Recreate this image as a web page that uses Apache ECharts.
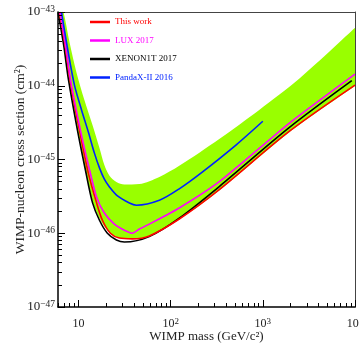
<!DOCTYPE html>
<html><head><meta charset="utf-8">
<script src="https://cdn.jsdelivr.net/npm/echarts@6/dist/echarts.min.js"></script>
<style>html,body{margin:0;padding:0;background:#fff}#c{width:359px;height:343px}</style>
</head><body><div id="c"></div>
<script>
// ---- data (mass in GeV/c^2, cross section in cm^2) ----
const xTickValues = [10, 100, 1000, 10000];
const yTickValues = [1e-47, 1e-46, 1e-45, 1e-44, 1e-43];
const xMin = 6, xMax = 10000, yMin = 1e-47, yMax = 1e-43;

const thisWorkMass  = [6.2, 7.15, 8.1, 10.25, 12.7, 15.7, 18.2, 22.2, 27.8, 38.5, 58.7, 124, 337, 1930, 10000];
const thisWorkSigma = [1.0e-43, 3.6e-44, 1.2e-44, 2.5e-45, 6.8e-46, 2.6e-46, 1.5e-46, 1.0e-46, 8.6e-47, 8.4e-47, 9.2e-47, 1.56e-46, 3.9e-46, 2.4e-45, 1.02e-44];

const luxMass  = [6.3, 7.23, 8.2, 10.5, 13.2, 15.7, 19.1, 24.5, 31.5, 38.5, 45.8, 58.7, 124, 337, 1930, 10000];
const luxSigma = [1.0e-43, 3.6e-44, 1.2e-44, 2.5e-45, 7.2e-46, 3.1e-46, 1.88e-46, 1.33e-46, 1.1e-46, 1.0e-46, 1.14e-46, 1.33e-46, 2.2e-46, 5.0e-46, 3.1e-45, 1.44e-44];

const xenonMass  = [6.0, 6.9, 7.8, 9.75, 11.9, 14.2, 16.9, 20.6, 25.8, 31.5, 58.7, 124, 337, 1930, 9230];
const xenonSigma = [1.0e-43, 3.6e-44, 1.2e-44, 2.5e-45, 7.2e-46, 2.6e-46, 1.5e-46, 1.0e-46, 8.1e-47, 7.6e-47, 9.0e-47, 1.6e-46, 4.3e-46, 2.7e-45, 1.17e-44];

const pandaMass  = [6.55, 7.6, 9.05, 10.8, 12.8, 14.9, 16.9, 19.1, 21.7, 26.5, 35.7, 42.5, 75.5, 124, 222, 511, 1000];
const pandaSigma = [1.0e-43, 3.25e-44, 1.02e-44, 4.7e-45, 2.36e-45, 1.22e-45, 7.7e-46, 5.4e-46, 4.24e-46, 3.2e-46, 2.57e-46, 2.4e-46, 2.8e-46, 4.0e-46, 6.8e-46, 1.57e-45, 3.3e-45];

const bandUpperMass  = [6.0, 6.88, 8.0, 9.5, 11.6, 14.2, 16.9, 19.1, 21.7, 25.8, 31.5, 45.8, 75.5, 124, 337, 914, 2480, 10000];
const bandUpperSigma = [1.6e-43, 1.0e-43, 3.9e-44, 1.53e-44, 6.4e-45, 2.94e-45, 1.43e-45, 8.4e-46, 6.0e-46, 4.95e-46, 4.58e-46, 4.65e-46, 5.8e-46, 8.2e-46, 1.9e-45, 4.7e-45, 1.24e-44, 6.1e-44];

const bandLowerMass  = [6.0, 6.9, 7.8, 9.75, 11.9, 14.4, 17.6, 22.2, 27.8, 38.5, 58.7, 124, 337, 1930, 10000];
const bandLowerSigma = [1.0e-43, 3.6e-44, 1.2e-44, 2.5e-45, 7.2e-46, 2.6e-46, 1.46e-46, 1.0e-46, 8.6e-47, 8.4e-47, 9.2e-47, 1.54e-46, 3.8e-46, 2.32e-45, 9.9e-45];

// ---- build ----
const L = Math.log10;
const pairs = (m, s) => m.map((v, i) => [L(v), L(s[i])]);
const FONT = 'Liberation Serif';
const xMajor = xTickValues.map(L);
const yMajor = yTickValues.map(L);
const minorOf = (lo, hi) => {
  const out = [];
  for (let e = Math.floor(lo) - 1; e <= Math.ceil(hi); e++) {
    for (let k = 2; k <= 9; k++) {
      const v = e + L(k);
      if (v >= lo - 1e-9 && v <= hi + 1e-9) out.push(v);
    }
  }
  return out;
};
const xMinor = minorOf(L(xMin), L(xMax));
const yMinor = minorOf(L(yMin), L(yMax));

const supLabel = (e) => {
  const n = Math.round(e);
  if (n === 1) return '{b|10}';
  const s = n < 0 ? '\u2212' + (-n) : String(n);
  return '{b|10}{s|' + s + '}';
};
const richX = {
  b: { fontFamily: FONT, fontSize: 12, color: '#222', lineHeight: 14 },
  s: { fontFamily: FONT, fontSize: 9, color: '#222', lineHeight: 14, verticalAlign: 'top', padding: [0, 0, 6, 0] }
};
const richY = {
  b: { fontFamily: FONT, fontSize: 13, color: '#222', lineHeight: 15 },
  s: { fontFamily: FONT, fontSize: 9.5, color: '#222', lineHeight: 15, verticalAlign: 'top', padding: [0, 0, 6, 0] }
};

const common = { type: 'value', min: L(xMin), max: L(xMax), z: 5 };
const xAxes = [
  { ...common, position: 'bottom',
    axisLine: { onZero: false, lineStyle: { color: '#000', width: 1.5 } },
    axisTick: { inside: true, length: 7, customValues: xMajor, lineStyle: { color: '#000', width: 1 } },
    axisLabel: { customValues: xMajor, formatter: supLabel, rich: richX, margin: 10 },
    splitLine: { show: false },
    name: 'WIMP mass (GeV/c\u00b2)', nameLocation: 'middle', nameGap: 23, nameMoveOverlap: false,
    nameTextStyle: { fontFamily: FONT, fontSize: 13, color: '#222' } },
  { ...common, position: 'bottom',
    axisLine: { show: false, onZero: false },
    axisTick: { inside: true, length: 4, customValues: xMinor, lineStyle: { color: '#000', width: 1 } },
    axisLabel: { show: false }, splitLine: { show: false } },
  { ...common, position: 'top',
    axisLine: { onZero: false, lineStyle: { color: '#444', width: 1 } },
    axisTick: { show: false }, axisLabel: { show: false }, splitLine: { show: false } }
];
const ycommon = { type: 'value', min: L(yMin), max: L(yMax), z: 5 };
const yAxes = [
  { ...ycommon, position: 'left',
    axisLine: { show: true, onZero: false, lineStyle: { color: '#000', width: 1.5 } },
    axisTick: { show: true, inside: true, length: 7, customValues: yMajor, lineStyle: { color: '#000', width: 1 } },
    axisLabel: { customValues: yMajor, formatter: supLabel, rich: richY, margin: 3 },
    splitLine: { show: false },
    name: 'WIMP-nucleon cross section (cm\u00b2)', nameLocation: 'middle', nameGap: 31, nameMoveOverlap: false,
    nameTextStyle: { fontFamily: FONT, fontSize: 13.5, color: '#222' } },
  { ...ycommon, position: 'left',
    axisLine: { show: false, onZero: false },
    axisTick: { show: true, inside: true, length: 4, customValues: yMinor, lineStyle: { color: '#000', width: 1 } },
    axisLabel: { show: false }, splitLine: { show: false } },
  { ...ycommon, position: 'right',
    axisLine: { show: true, onZero: false, lineStyle: { color: '#444', width: 1 } },
    axisTick: { show: false }, axisLabel: { show: false }, splitLine: { show: false } }
];

const lineSeries = (name, m, s, color, z, sm) => ({
  name, type: 'line', data: pairs(m, s), smooth: sm, symbol: 'none', showSymbol: false,
  lineStyle: { color, width: 1.6 }, itemStyle: { color }, z: z, clip: true
});

const chart = echarts.init(document.getElementById('c'), null, { renderer: 'canvas' });
chart.setOption({
  animation: false,
  backgroundColor: '#fff',
  grid: { left: 58, right: 4, top: 12, bottom: 36, containLabel: false, outerBoundsMode: 'none' },
  xAxis: xAxes,
  yAxis: yAxes,
  legend: {
    left: 90, top: 16, padding: 0, orient: 'vertical', itemWidth: 20, itemHeight: 2.5, itemGap: 6.5,
    icon: 'rect',
    textStyle: { fontFamily: FONT, fontSize: 9, lineHeight: 12 },
    data: [
      { name: 'This work', textStyle: { color: '#ff0000' } },
      { name: 'LUX 2017', textStyle: { color: '#ff00ff' } },
      { name: 'XENON1T 2017', textStyle: { color: '#000000' } },
      { name: 'PandaX-II 2016', textStyle: { color: '#0022ff' } }
    ]
  },
  series: [
    { name: 'band-upper', type: 'line', data: pairs(bandUpperMass, bandUpperSigma), smooth: 0.3,
      symbol: 'none', lineStyle: { width: 0 }, areaStyle: { color: '#99ff00', opacity: 1, origin: 'start' }, z: 1 },
    { name: 'band-lower', type: 'line', data: pairs(bandLowerMass, bandLowerSigma), smooth: 0.3,
      symbol: 'none', lineStyle: { width: 0 }, areaStyle: { color: '#ffffff', opacity: 1, origin: 'start' }, z: 1 },
    lineSeries('XENON1T 2017', xenonMass, xenonSigma, '#000000', 2, 0.3),
    lineSeries('This work', thisWorkMass, thisWorkSigma, '#ff0000', 3, 0.3),
    lineSeries('LUX 2017', luxMass, luxSigma, '#ff00ff', 3, 0.2),
    lineSeries('PandaX-II 2016', pandaMass, pandaSigma, '#0022ff', 3, 0.3)
  ]
});
</script>
</body></html>
